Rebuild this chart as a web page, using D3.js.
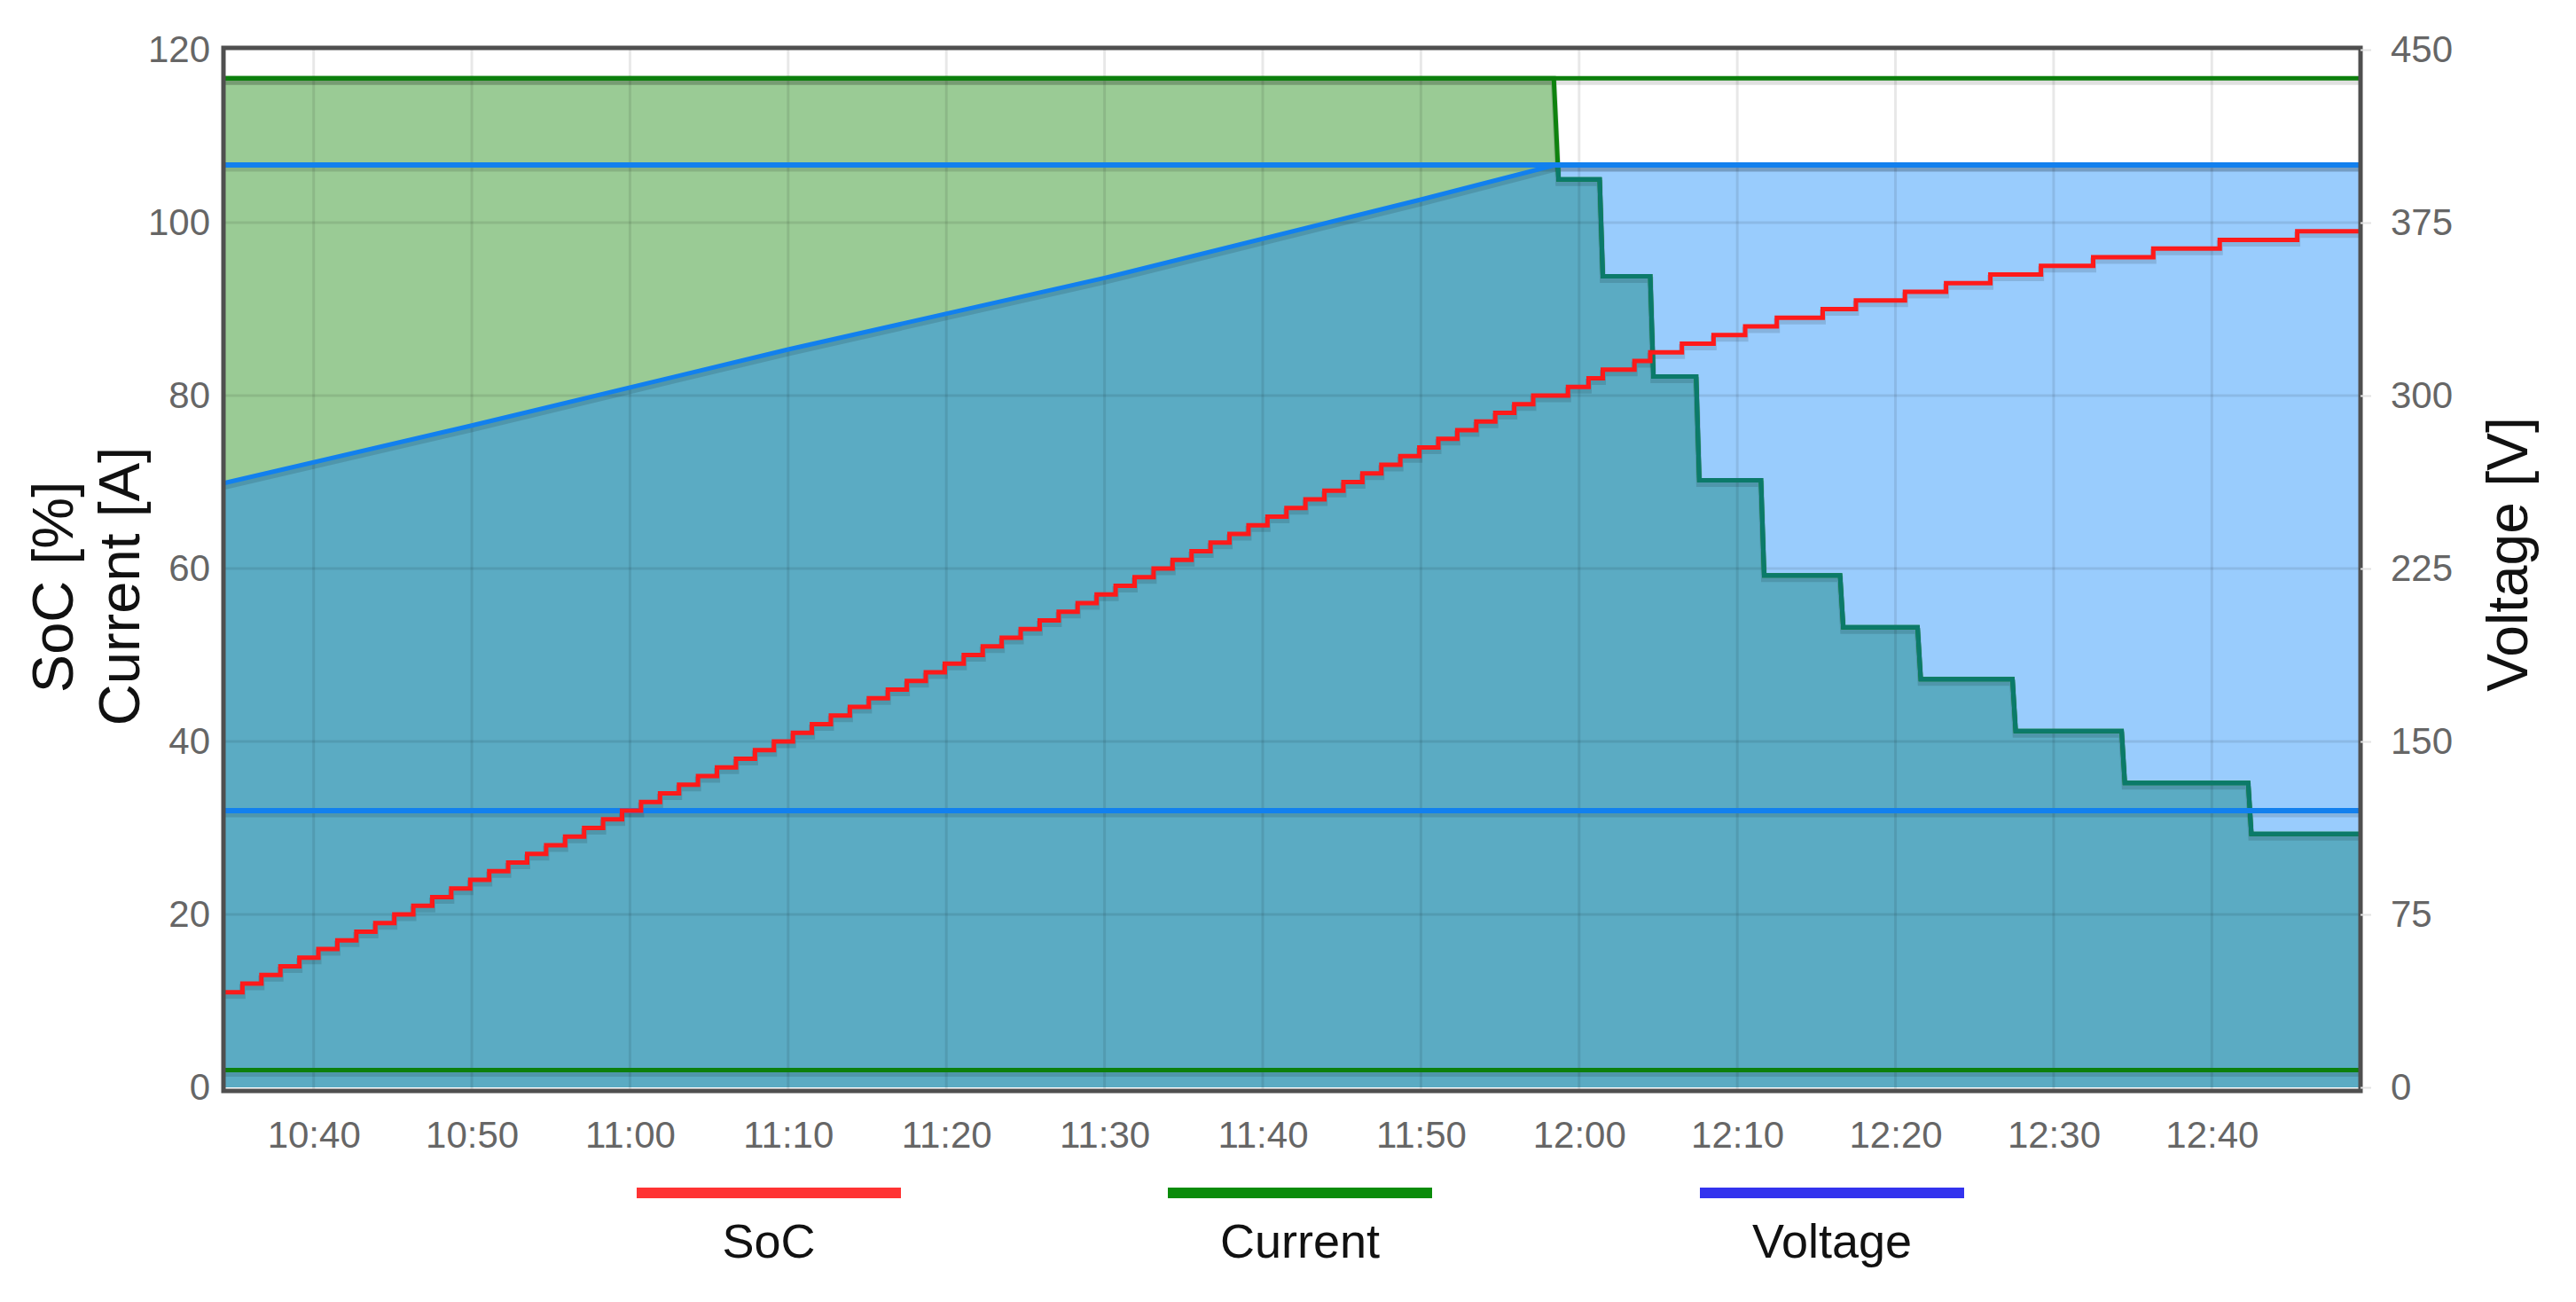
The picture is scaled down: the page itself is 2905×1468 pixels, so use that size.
<!DOCTYPE html>
<html>
<head>
<meta charset="utf-8">
<script src="https://cdn.jsdelivr.net/npm/d3@7"></script>
<style>
  html, body { margin: 0; padding: 0; background: #ffffff; }
  svg { display: block; font-family: "Liberation Sans", Arial, Helvetica, sans-serif; }
</style>
</head>
<body>
<svg id="chart" width="2905" height="1468"></svg>
<script>
// ---------------- DATA (minutes after 10:00, value) ----------------
const socPoints = [
  [34.3,11],[35.5,12],[36.7,13],[37.9,14],[39.1,15],[40.3,16],[41.5,17],[42.7,18],[43.9,19],
  [45.1,20],[46.3,21],[47.5,22],[48.7,23],[49.9,24],[51.1,25],[52.3,26],[53.5,27],[54.7,28],
  [55.9,29],[57.1,30],[58.3,31],[59.5,32],[60.7,33],[61.9,34],[63.1,35],[64.3,36],[65.5,37],
  [66.7,38],[67.9,39],[69.1,40],[70.3,41],[71.5,42],[72.7,43],[73.9,44],[75.1,45],[76.3,46],
  [77.5,47],[78.7,48],[79.9,49],[81.1,50],[82.3,51],[83.5,52],[84.7,53],[85.9,54],[87.1,55],
  [88.3,56],[89.5,57],[90.7,58],[91.9,59],[93.1,60],[94.3,61],[95.5,62],[96.7,63],[97.9,64],
  [99.1,65],[100.3,66],[101.5,67],[102.7,68],[103.9,69],[105.1,70],[106.3,71],[107.5,72],
  [108.7,73],[109.9,74],[111.1,75],[112.3,76],[113.5,77],[114.7,78],[115.9,79],[117.1,80],
  [119.3,81],[120.6,82],[121.5,83],[123.5,84],[124.5,85],[126.5,86],[128.5,87],[130.5,88],
  [132.5,89],[135.4,90],[137.5,91],[140.6,92],[143.2,93],[146.0,94],[149.2,95],[152.5,96],
  [156.3,97],[160.5,98],[165.4,99],[169.4,99]
];
const currentPoints = [
  [34.3,116.7],[118.4,116.7],[118.7,105],[121.3,105],[121.5,93.8],[124.5,93.8],[124.7,82.2],
  [127.4,82.2],[127.6,70.2],[131.5,70.2],[131.7,59.2],[136.5,59.2],[136.7,53.2],[141.4,53.2],
  [141.6,47.2],[147.4,47.2],[147.6,41.2],[154.3,41.2],[154.5,35.2],[162.3,35.2],[162.5,29.3],
  [169.4,29.3]
];
const voltagePoints = [
  [34.3,262],[50,287],[70,320],[90,351],[110,385],[118.5,400],[169.4,400]
];
const currentLimits = [116.7, 2];
const voltageLimits = [400, 120];
const xTickLabels = ["10:40","10:50","11:00","11:10","11:20","11:30","11:40","11:50","12:00","12:10","12:20","12:30","12:40"];
const leftTicks = [0,20,40,60,80,100,120];
const rightTicks = [0,75,150,225,300,375,450];
const xDomainMinutes = [34.3, 169.4];
const legendItems = ["SoC","Current","Voltage"];
const legendColors = ["#ff3333","#0a8c0a","#3333ee"];

// ---------------- LAYOUT ----------------
const plot = {left: 252, right: 2662, top: 54, bottom: 1230};
const yTop = 56, yBottom = 1226;
const base = new Date(2020, 0, 1, 10, 0, 0);
const toDate = m => new Date(base.getTime() + m * 60000);
const parseHM = d3.timeParse("%H:%M");
const tickDates = xTickLabels.map(s => { const p = parseHM(s); return new Date(2020,0,1,p.getHours(),p.getMinutes()); });

const x = d3.scaleTime().domain(xDomainMinutes.map(toDate)).range([plot.left, plot.right]);
const yL = d3.scaleLinear().domain([0,120]).range([yBottom, yTop]);
const yR = d3.scaleLinear().domain([0,450]).range([yBottom, yTop]);

const svg = d3.select("#chart");
const defs = svg.append("defs");
defs.append("clipPath").attr("id","plotClip").append("rect")
  .attr("x", plot.left).attr("y", plot.top)
  .attr("width", plot.right - plot.left).attr("height", plot.bottom - plot.top);

const areaCur = d3.area().x(d => x(toDate(d[0]))).y0(yL(0)).y1(d => yL(d[1]));
const lineCur = d3.line().x(d => x(toDate(d[0]))).y(d => yL(d[1]));
const areaVol = d3.area().x(d => x(toDate(d[0]))).y0(yR(0)).y1(d => yR(d[1]));
const lineVol = d3.line().x(d => x(toDate(d[0]))).y(d => yR(d[1]));
const lineSoc = d3.line().x(d => x(toDate(d[0]))).y(d => yL(d[1])).curve(d3.curveStepAfter);

defs.append("clipPath").attr("id","volClip").append("path").attr("d", areaVol(voltagePoints));

const g = svg.append("g").attr("clip-path","url(#plotClip)");

// fills
g.append("path").attr("d", areaCur(currentPoints)).attr("fill", "#9acb95");
g.append("path").attr("d", areaVol(voltagePoints)).attr("fill", "#99ccfd");
g.append("g").attr("clip-path","url(#volClip)")
  .append("path").attr("d", areaCur(currentPoints)).attr("fill", "#5babc3");

// grid
g.append("g").selectAll("line.v").data(tickDates).join("line")
  .attr("x1", d => x(d)).attr("x2", d => x(d))
  .attr("y1", plot.top).attr("y2", plot.bottom)
  .attr("stroke", "rgba(0,0,0,0.09)").attr("stroke-width", 3);
g.append("g").selectAll("line.h").data(leftTicks.slice(1, -1)).join("line")
  .attr("x1", plot.left).attr("x2", plot.right)
  .attr("y1", d => yL(d)).attr("y2", d => yL(d))
  .attr("stroke", "rgba(0,0,0,0.09)").attr("stroke-width", 3);

// shadows
const shadow = (d) => g.append("path").attr("d", d).attr("fill","none")
  .attr("stroke","rgba(0,0,0,0.12)").attr("stroke-width",7)
  .attr("transform","translate(0,4)");
shadow(lineCur(currentPoints));
shadow(lineVol(voltagePoints));
shadow(lineSoc(socPoints));
currentLimits.forEach(v => g.append("line").attr("x1",plot.left).attr("x2",plot.right)
  .attr("y1",yL(v)+4).attr("y2",yL(v)+4).attr("stroke","rgba(0,0,0,0.12)").attr("stroke-width",7));
voltageLimits.forEach(v => g.append("line").attr("x1",plot.left).attr("x2",plot.right)
  .attr("y1",yR(v)+4).attr("y2",yR(v)+4).attr("stroke","rgba(0,0,0,0.12)").attr("stroke-width",7));

// current line (green, teal where under the voltage fill)
g.append("path").attr("d", lineCur(currentPoints)).attr("fill","none")
  .attr("stroke","#0e820e").attr("stroke-width",5).attr("stroke-linejoin","miter");
g.append("g").attr("clip-path","url(#volClip)")
  .append("path").attr("d", lineCur(currentPoints)).attr("fill","none")
  .attr("stroke","#0b7a6a").attr("stroke-width",5);

// limit lines
currentLimits.forEach(v => g.append("line").attr("x1",plot.left).attr("x2",plot.right)
  .attr("y1",yL(v)).attr("y2",yL(v)).attr("stroke","#0c7f0c").attr("stroke-width",5));
voltageLimits.forEach(v => g.append("line").attr("x1",plot.left).attr("x2",plot.right)
  .attr("y1",yR(v)).attr("y2",yR(v)).attr("stroke","#1280ee").attr("stroke-width",6));

// voltage line
g.append("path").attr("d", lineVol(voltagePoints)).attr("fill","none")
  .attr("stroke","#1280ee").attr("stroke-width",5);

// SoC line
g.append("path").attr("d", lineSoc(socPoints)).attr("fill","none")
  .attr("stroke","#ff1a1a").attr("stroke-width",5);

// border
svg.append("rect").attr("x", plot.left).attr("y", plot.top)
  .attr("width", plot.right - plot.left).attr("height", plot.bottom - plot.top)
  .attr("fill","none").attr("stroke","#4f4f4f").attr("stroke-width",5);

// axes
const axL = svg.append("g").attr("transform", `translate(${plot.left},0)`)
  .call(d3.axisLeft(yL).tickValues(leftTicks).tickSize(0).tickPadding(15));
const axR = svg.append("g").attr("transform", `translate(${plot.right},0)`)
  .call(d3.axisRight(yR).tickValues(rightTicks).tickSize(12).tickPadding(22));
const axB = svg.append("g").attr("transform", `translate(0,${plot.bottom})`)
  .call(d3.axisBottom(x).tickValues(tickDates).tickFormat(d3.timeFormat("%H:%M")).tickSize(0).tickPadding(34));
[axL, axR, axB].forEach(a => {
  a.select(".domain").remove();
  a.selectAll("text").attr("fill","#666").style("font-size","42px")
    .style("font-family",'"Liberation Sans", Arial, sans-serif');
  a.selectAll("line").attr("stroke","#e3e3e3").attr("stroke-width",2);
});

// axis titles
svg.append("text").attr("transform","translate(82,662) rotate(-90)")
  .attr("text-anchor","middle").attr("fill","#111").style("font-size","65px").text("SoC [%]");
svg.append("text").attr("transform","translate(157,661) rotate(-90)")
  .attr("text-anchor","middle").attr("fill","#111").style("font-size","65px").text("Current [A]");
svg.append("text").attr("transform","translate(2850,625) rotate(-90)")
  .attr("text-anchor","middle").attr("fill","#111").style("font-size","64px").text("Voltage [V]");

// legend
const legendCenters = [867, 1466, 2066];
const leg = svg.append("g").selectAll("g").data(legendItems).join("g")
  .attr("transform", (d,i) => `translate(${legendCenters[i]},0)`);
leg.append("line").attr("x1",-149).attr("x2",149).attr("y1",1345).attr("y2",1345)
  .attr("stroke",(d,i) => legendColors[i]).attr("stroke-width",12);
leg.append("text").attr("y",1418).attr("text-anchor","middle").attr("fill","#111")
  .style("font-size","54px").text(d => d);
</script>
</body>
</html>
